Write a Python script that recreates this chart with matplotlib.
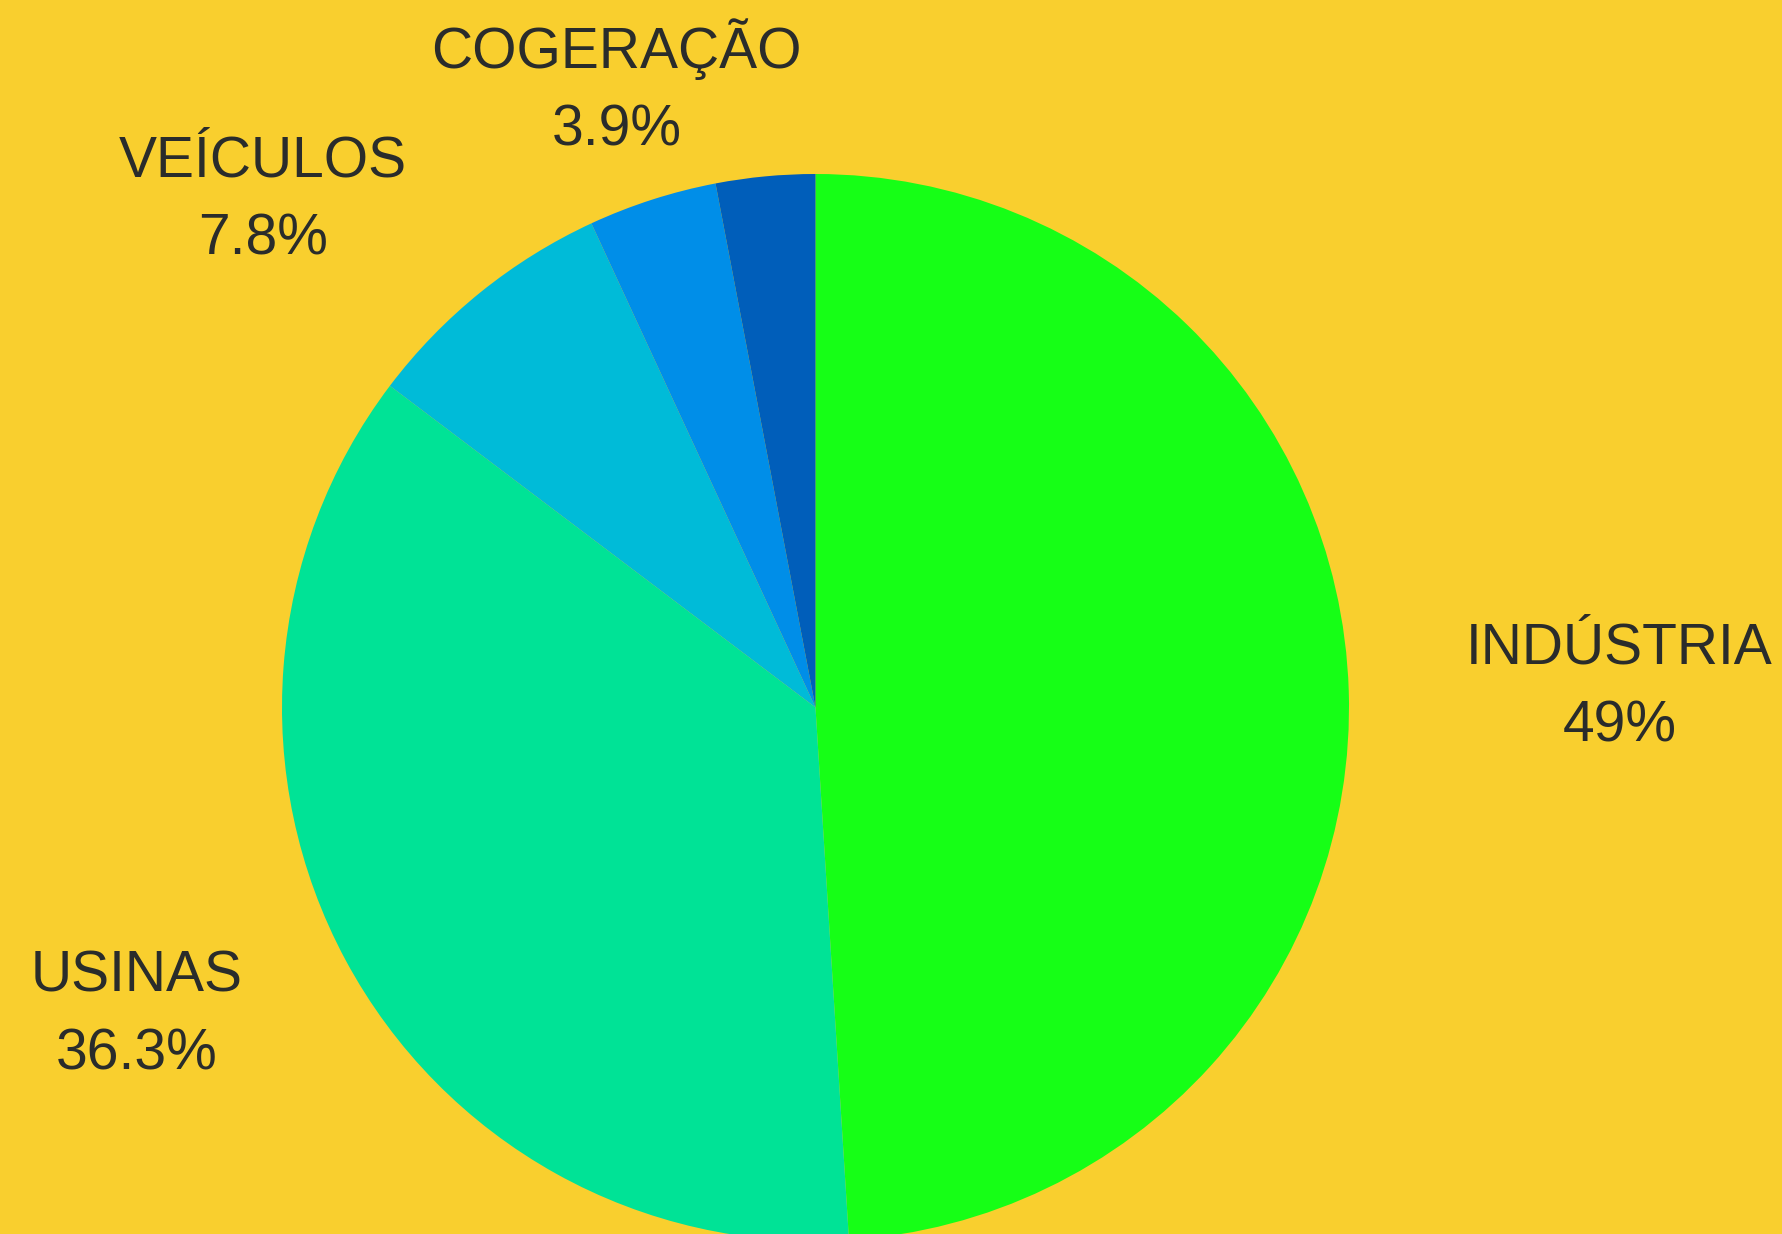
import numpy as np
import matplotlib
matplotlib.use("Agg")
import matplotlib.pyplot as plt

categories = ["INDÚSTRIA", "USINAS", "VEÍCULOS", "COGERAÇÃO", ""]
values = [49.0, 36.3, 7.8, 3.9, 3.0]
colors = ["#16FF16", "#00E396", "#00BBD8", "#008EE8", "#005EBA"]
bg = "#F9CF2E"
text_color = "#2A2C2B"

plt.rcParams['font.family'] = ['Liberation Sans', 'DejaVu Sans']

fig = plt.figure(figsize=(17.82, 12.34), dpi=100, facecolor=bg)
W, H = 1782, 1234
cx, cy, r = 815.5, 1234 - 707.5, 533.5
ax = fig.add_axes([(cx - r) / W, (cy - r) / H, 2 * r / W, 2 * r / H])
ax.set_facecolor(bg)

wedges, _ = ax.pie(values, colors=colors, startangle=90, counterclock=False,
                   radius=1.0, wedgeprops=dict(linewidth=0))
ax.set_xlim(-1, 1)
ax.set_ylim(-1, 1)
ax.set_aspect('equal')
ax.axis('off')

def fmt(v):
    s = f"{v:.1f}"
    if s.endswith(".0"):
        s = s[:-2]
    return s + "%"

for w, name, v in zip(wedges, categories, values):
    if not name:
        continue
    ang = np.deg2rad((w.theta1 + w.theta2) / 2)
    x, y = 1.22 * np.cos(ang), 1.22 * np.sin(ang)
    if x > 0.6:
        ha = 'left'
    elif x < -0.6:
        ha = 'right'
    else:
        ha = 'center'
    ax.text(x, y, name + "\n" + fmt(v), ha=ha, va='center', multialignment='center',
            fontsize=41, color=text_color, linespacing=1.57, clip_on=False)

fig.savefig("out.png", dpi=100, facecolor=bg)
